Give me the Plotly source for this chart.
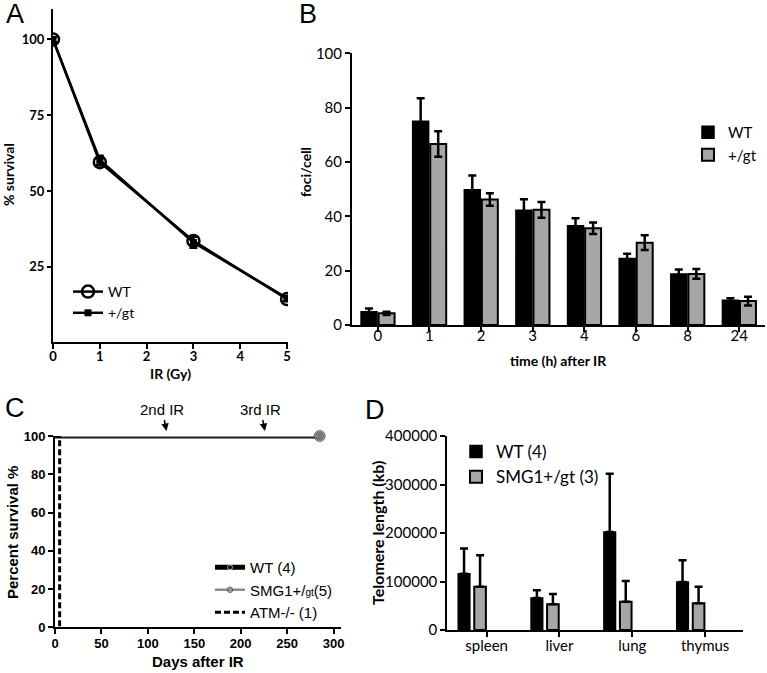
import plotly.graph_objects as go

W, H = 767, 673

# ---------------- Data ----------------
# Panel A
a_dose = [0, 1, 3, 5]
a_wt = [100, 59.5, 33.5, 14.3]
a_wt_err = [0.8, 1.2, 1.5, 0.8]
a_gt = [100, 60.2, 33.0, 14.6]
a_gt_err = [0.8, 1.5, 1.8, 0.8]

# Panel B
b_time = ["0", "1", "2", "3", "4", "6", "8", "24"]
b_wt = [4.9, 75.0, 49.8, 42.2, 36.5, 24.5, 18.8, 9.1]
b_wt_err = [1.2, 8.5, 5.2, 4.1, 2.8, 1.7, 1.6, 0.7]
b_gt = [4.3, 66.6, 46.2, 42.4, 35.6, 30.3, 18.8, 8.8]
b_gt_err = [0.6, 4.7, 2.3, 2.9, 2.1, 2.7, 1.8, 1.6]

# Panel C
c_wt_days = [0, 285]
c_wt_surv = [100, 100]
c_gt_days = [0, 285]
c_gt_surv = [100, 100]
c_atm_days = [0, 5, 5]
c_atm_surv = [100, 100, 0]
c_ir_days = [120, 226]
c_ir_labels = ["2nd IR", "3rd IR"]

# Panel D
d_tissue = ["spleen", "liver", "lung", "thymus"]
d_wt = [116000, 66000, 202000, 99000]
d_wt_err = [52000, 16000, 120000, 45000]
d_gt = [89000, 53000, 58000, 55000]
d_gt_err = [65000, 21000, 43000, 34000]

# ---------------- Helpers ----------------
def px(x):
    return x / W

def py(y):
    return 1 - y / H

CAL = "Lato, 'Open Sans', sans-serif"
ARI = "'Liberation Sans', Arial, sans-serif"
GRAY = "#a6a6a6"

fig = go.Figure()

# ---------------- Panel A ----------------
fig.add_trace(go.Scatter(
    x=a_dose, y=a_gt, name="+/gt", mode="lines+markers",
    line=dict(color="black", width=2.5),
    marker=dict(symbol="square", size=7, color="black"),
    error_y=dict(type="data", array=a_gt_err, color="black", thickness=2, width=4),
    xaxis="x", yaxis="y", legend="legend"))
fig.add_trace(go.Scatter(
    x=a_dose, y=a_wt, name="WT", mode="lines+markers",
    line=dict(color="black", width=2.5),
    marker=dict(symbol="circle-open", size=12, color="black", line=dict(width=2.5)),
    error_y=dict(type="data", array=a_wt_err, color="black", thickness=2, width=4),
    xaxis="x", yaxis="y", legend="legend"))

# ---------------- Panel B ----------------
fig.add_trace(go.Bar(
    x=b_time, y=b_wt, name="WT",
    marker=dict(color="black", line=dict(color="black", width=1.5)),
    error_y=dict(type="data", array=b_wt_err, color="black", thickness=2.5, width=4),
    xaxis="x2", yaxis="y2", legend="legend2"))
fig.add_trace(go.Bar(
    x=b_time, y=b_gt, name="+/gt",
    marker=dict(color=GRAY, line=dict(color="black", width=2)),
    error_y=dict(type="data", array=b_gt_err, color="black", thickness=2.5, width=4),
    xaxis="x2", yaxis="y2", legend="legend2"))

# ---------------- Panel C ----------------
fig.add_trace(go.Scatter(
    x=c_wt_days, y=c_wt_surv, name="WT (4)", mode="lines+markers",
    line=dict(color="black", width=5),
    marker=dict(symbol="circle", size=[0, 10], color="black"),
    xaxis="x3", yaxis="y3", legend="legend3", cliponaxis=False))
fig.add_trace(go.Scatter(
    x=c_gt_days, y=c_gt_surv,
    name="SMG1+/<span style='font-size:10px'>gt</span>(5)", mode="lines+markers",
    line=dict(color="#8c8c8c", width=2.5),
    marker=dict(symbol="circle", size=[0, 11], color="#8c8c8c",
                line=dict(color="#333333", width=1)),
    xaxis="x3", yaxis="y3", legend="legend3", cliponaxis=False))
fig.add_trace(go.Scatter(
    x=c_atm_days, y=c_atm_surv, name="ATM-/- (1)", mode="lines",
    line=dict(color="black", width=3, dash="6px,3px"),
    xaxis="x3", yaxis="y3", legend="legend3", cliponaxis=False))

# ---------------- Panel D ----------------
fig.add_trace(go.Bar(
    x=d_tissue, y=d_wt, name="WT (4)", offset=-0.39, width=0.16,
    marker=dict(color="black", line=dict(color="black", width=1.5)),
    error_y=dict(type="data", symmetric=False, array=d_wt_err,
                 arrayminus=[0] * len(d_wt_err), color="black", thickness=2.5, width=4),
    xaxis="x4", yaxis="y4", legend="legend4"))
fig.add_trace(go.Bar(
    x=d_tissue, y=d_gt, name="SMG1+/gt (3)", offset=-0.17, width=0.16,
    marker=dict(color=GRAY, line=dict(color="black", width=2)),
    error_y=dict(type="data", symmetric=False, array=d_gt_err,
                 arrayminus=[0] * len(d_gt_err), color="black", thickness=2.5, width=4),
    xaxis="x4", yaxis="y4", legend="legend4"))

# ---------------- Axes ----------------
axcommon = dict(showline=True, linecolor="black", linewidth=2, ticks="outside",
                ticklen=5, tickwidth=2, tickcolor="black", showgrid=False,
                zeroline=False, automargin=False)

fig.update_layout(
    xaxis=dict(axcommon, domain=[px(53), px(288)], range=[0, 5.02], anchor="y",
               tickvals=[0, 1, 2, 3, 4, 5], ticklabelstandoff=-4,
               tickfont=dict(family=CAL, size=13, color="black", weight="bold")),
    yaxis=dict(axcommon, domain=[py(342.4), py(9.2)], range=[0, 110], anchor="x",
               tickvals=[25, 50, 75, 100], ticklen=4,
               tickfont=dict(family=CAL, size=13, color="black", weight="bold")),
    xaxis2=dict(axcommon, domain=[px(352), px(765)], range=[-0.5, 7.5], anchor="y2",
                type="category", ticklabelstandoff=-9,
                tickfont=dict(family=CAL, size=15, color="black")),
    yaxis2=dict(axcommon, domain=[py(325), py(53.3)], range=[0, 100], anchor="x2",
                tickvals=[0, 20, 40, 60, 80, 100],
                tickfont=dict(family=CAL, size=15, color="black")),
    xaxis3=dict(axcommon, domain=[px(55), px(341)], range=[0, 308], anchor="y3",
                tickvals=[0, 50, 100, 150, 200, 250, 300], ticklabelstandoff=-2,
                tickfont=dict(family=ARI, size=13, color="black", weight="bold")),
    yaxis3=dict(axcommon, domain=[py(627.3), py(436)], range=[0, 100], anchor="x3",
                tickvals=[0, 20, 40, 60, 80, 100],
                tickfont=dict(family=ARI, size=13, color="black", weight="bold")),
    xaxis4=dict(axcommon, domain=[px(447.3), px(743)], range=[-0.54, 3.52], anchor="y4",
                type="category", ticklabelstandoff=-4,
                tickfont=dict(family=CAL, size=15, color="black")),
    yaxis4=dict(axcommon, domain=[py(630), py(436)], range=[0, 400000], anchor="x4",
                tickvals=[0, 100000, 200000, 300000, 400000], tickformat="d",
                tickfont=dict(family=CAL, size=15, color="black")),
)

# ---------------- Legends ----------------
leg = dict(bgcolor="rgba(0,0,0,0)", borderwidth=0, xanchor="left", yanchor="top",
           tracegroupgap=0, itemclick=False)
fig.update_layout(
    legend=dict(leg, x=px(68), y=py(276), traceorder="reversed",
                font=dict(family=CAL, size=14, color="black")),
    legend2=dict(leg, x=px(688), y=py(116),
                 font=dict(family=CAL, size=15, color="black")),
    legend3=dict(leg, x=px(210), y=py(551),
                 font=dict(family=ARI, size=15, color="black")),
    legend4=dict(leg, x=px(456), y=py(434),
                 font=dict(family=CAL, size=17, color="black")),
)

# ---------------- Annotations ----------------
ann = []
def label(text, x, y, size, family, angle=0, bold=False):
    t = f"<b>{text}</b>" if bold else text
    ann.append(dict(text=t, x=px(x), y=py(y), xref="paper", yref="paper",
                    showarrow=False, xanchor="center", yanchor="middle",
                    textangle=angle, font=dict(family=family, size=size, color="black")))

label("A", 15, 14, 27, ARI)
label("B", 308, 14, 27, ARI)
label("C", 15, 408, 27, ARI)
label("D", 375, 410, 27, ARI)
label("% survival", 9, 175, 14, CAL, -90, True)
label("IR (Gy)", 170, 373, 14, CAL, 0, True)
label("foci/cell", 305, 172, 14, CAL, -90, True)
label("time (h) after IR", 558, 360, 14, CAL, 0, True)
label("Percent survival %", 12, 533, 15, ARI, -90, True)
label("Days after IR", 198, 661, 15, ARI, 0, True)
label("Telomere length (kb)", 377, 533, 16, CAL, -90, True)

for d, t in zip(c_ir_days, c_ir_labels):
    ann.append(dict(text=t, x=d, y=py(431), xref="x3", yref="paper", showarrow=True,
                    ax=-4, ay=-21, arrowhead=2, arrowsize=1, arrowwidth=1.5,
                    arrowcolor="black", standoff=0,
                    font=dict(family=ARI, size=15, color="black")))

fig.update_layout(
    annotations=ann,
    width=W, height=H, template="none",
    margin=dict(l=0, r=0, t=0, b=0),
    paper_bgcolor="white", plot_bgcolor="rgba(0,0,0,0)",
    barmode="group", bargap=0.32, bargroupgap=0.09,
    showlegend=True,
)

fig.write_html("out.html", config={"displayModeBar": False},
               post_script="document.body.style.margin='0px';document.body.style.padding='0px';")
